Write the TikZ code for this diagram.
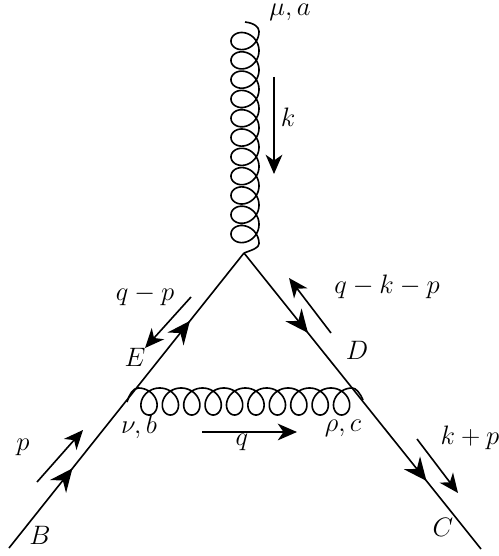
\documentclass[tikz,border=0pt]{standalone}
\usepackage{amsmath}
\usepackage{tikz}
\usetikzlibrary{arrows.meta,decorations.markings}

\begin{document}
\begin{tikzpicture}[
        x=0.778pt,
        y=-0.778pt,
        every node/.style={font=\huge},
        fermion/.style={
            line width=1.25pt,
            postaction={decorate},
            decoration={markings,
                mark=at position 0.27 with {\arrow{Stealth[length=18pt,width=16pt,inset=6pt]}},
                mark=at position 0.77 with {\arrow{Stealth[length=18pt,width=16pt,inset=6pt]}}}
        },
        gluon/.style={line width=1.25pt, line join=round},
        momentum/.style={-{Stealth[length=15pt,width=13pt,inset=4.5pt]}, line width=1.25pt}
    ]
    \useasboundingbox (0,0) rectangle (498,556);

    % =========================
    % Vertex and end points
    % =========================
    \coordinate (top) at (245,22);
    \coordinate (vtx) at (244,253);
    \coordinate (B) at (9,548);
    \coordinate (C) at (481,549);
    \coordinate (glL) at (127,402);
    \coordinate (glR) at (363,400);

    % Fermion lines
    \draw[fermion] (B) -- (vtx);
    \draw[fermion] (vtx) -- (C);

    % Gluons
    \draw[gluon] (top) .. controls (254,23) and (259,27) .. (259,31.4)
        -- plot[domain=0:3960,samples=661,variable=\t]
            ({245+14*cos(\t)},{31.4+\t/360*19.3+13*sin(\t)})
        .. controls (259,248) and (252,250) .. (vtx);
    \draw[gluon] (glL) .. controls (129,395) and (133,388) .. (138.3,388)
        -- plot[domain=0:3600,samples=601,variable=\t]
            ({138.3+\t/360*21.4+13*sin(\t)},{401.5-13.5*cos(\t)})
        .. controls (356,388) and (360,393) .. (glR);

    % =========================
    % Momentum arrows
    % =========================
    \coordinate (kS) at (274,77);
    \coordinate (kE) at (274,174);
    \coordinate (qpS) at (191,297);
    \coordinate (qpE) at (145,348);
    \coordinate (pS) at (37,482);
    \coordinate (pE) at (83,430);
    \coordinate (qkpS) at (331,333);
    \coordinate (qkpE) at (289,278);
    \coordinate (kpS) at (417,439);
    \coordinate (kpE) at (458,493);
    \coordinate (qS) at (202,432);
    \coordinate (qE) at (297,432);

    \draw[momentum] (kS) -- (kE);
    \draw[momentum] (qpS) -- (qpE);
    \draw[momentum] (pS) -- (pE);
    \draw[momentum] (qkpS) -- (qkpE);
    \draw[momentum] (kpS) -- (kpE);
    \draw[momentum] (qS) -- (qE);

    % Labels
    \node (lmu) at (290,12) {$\mu,a$};
    \node (lk) at (288,117) {$k$};
    \node (lqp) at (145,295) {$q-p$};
    \node (lE) at (135,357) {$E$};
    \node (lp) at (23,447) {$p$};
    \node (lB) at (40,535) {$B$};
    \node (lnu) at (139,427) {$\nu,b$};
    \node (lq) at (242,442) {$q$};
    \node (lrho) at (343,428) {$\rho,c$};
    \node (lkp) at (470,438) {$k+p$};
    \node (lC) at (443,527) {$C$};
    \node (lD) at (357,350) {$D$};
    \node (lqkp) at (387,287) {$q-k-p$};

    \end{tikzpicture}
\end{document}
